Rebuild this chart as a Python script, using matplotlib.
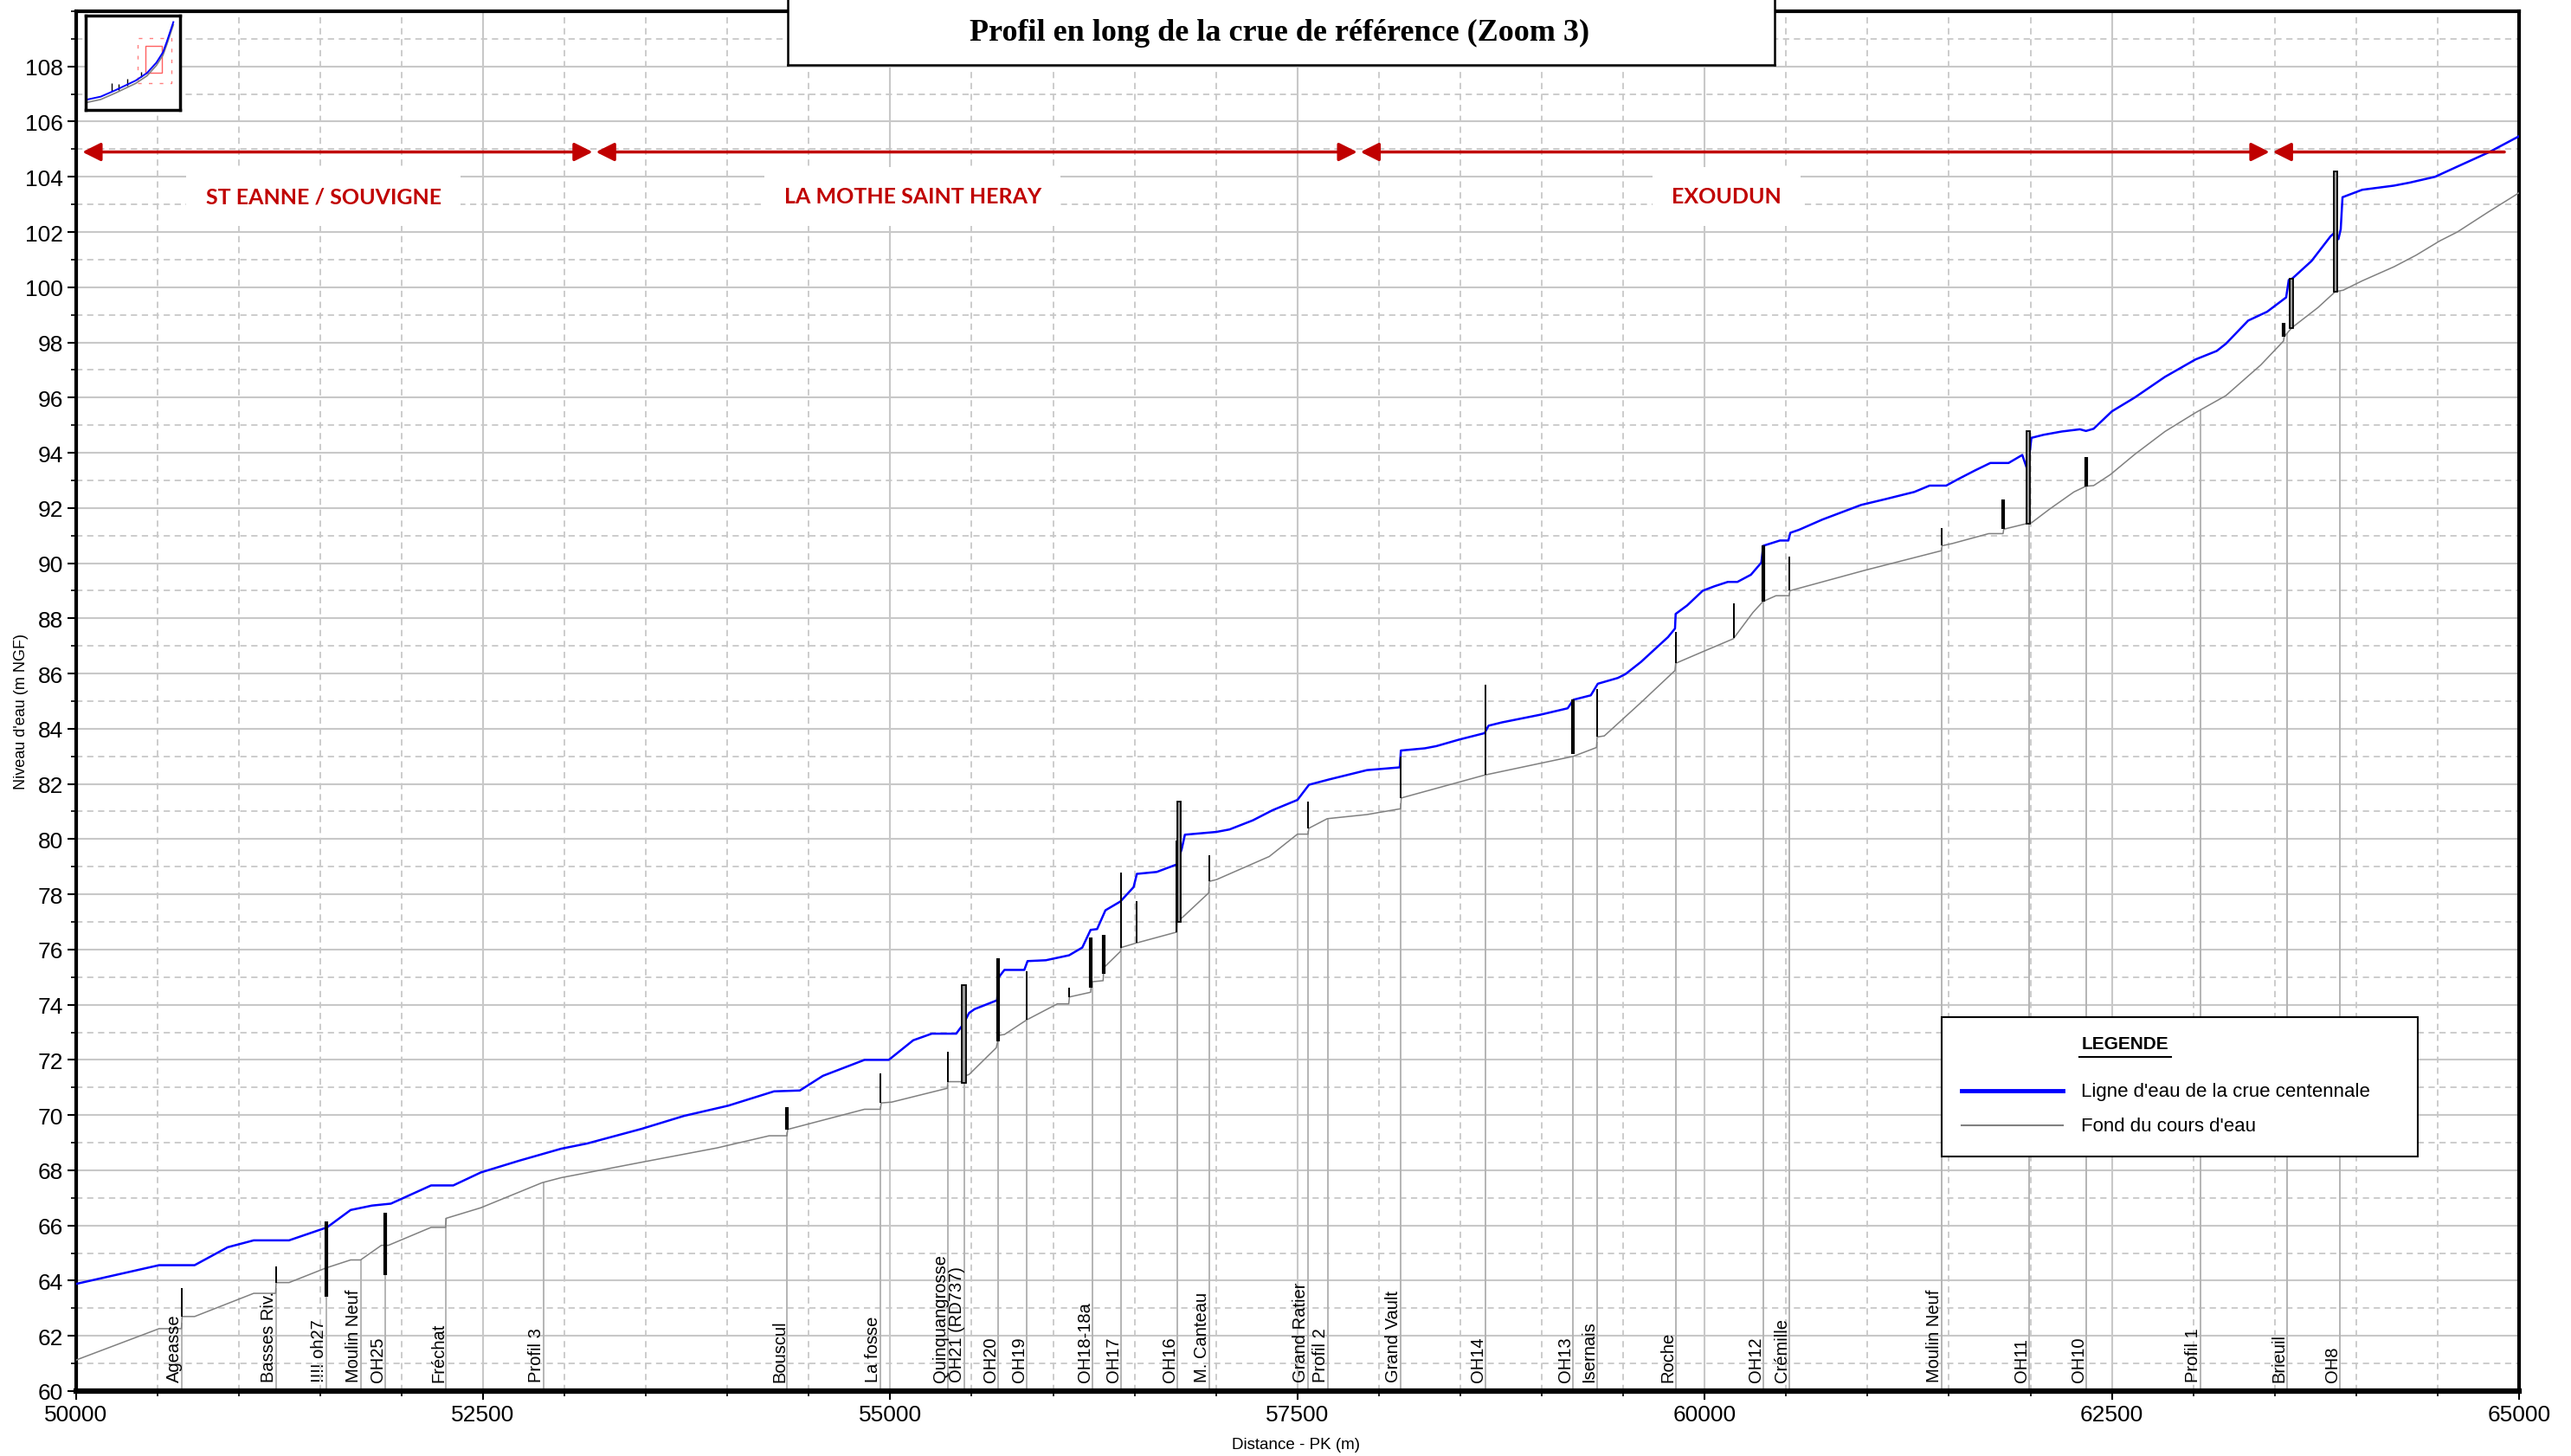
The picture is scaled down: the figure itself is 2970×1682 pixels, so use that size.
# -*- coding: utf-8 -*-
# Long profile of the reference flood (zoom 3), water line + river bed
import numpy as np
import matplotlib
matplotlib.use('Agg')
import matplotlib.pyplot as plt
from matplotlib.patches import Rectangle
from matplotlib.ticker import MultipleLocator

# Water line of the 100-year flood (PK in m, level in m NGF)
water_pk = [50000, 50511, 50729, 50932, 51092, 51309, 51542, 51687, 51818, 51934,
            52181, 52317, 52486, 52718, 52979, 53139, 53473, 53734, 54005, 54287,
            54445, 54586, 54842, 54991, 55141, 55255, 55405, 55449, 55484, 55518,
            55656, 55667, 55701, 55823, 55843, 55955, 56098, 56179, 56230, 56270,
            56321, 56413, 56494, 56514, 56636, 56758, 56789, 56809, 57002, 57083,
            57226, 57348, 57500, 57571, 57693, 57927, 58128, 58135, 58282, 58353,
            58495, 58649, 58673, 58756, 58993, 59159, 59194, 59301, 59344, 59467,
            59514, 59609, 59775, 59818, 59822, 59893, 59988, 60059, 60142, 60201,
            60284, 60348, 60360, 60462, 60514, 60526, 60580, 60723, 60961, 61110,
            61287, 61381, 61483, 61558, 61660, 61754, 61866, 61950, 61978, 61996,
            62006, 62080, 62192, 62304, 62341, 62388, 62500, 62640, 62826, 63013,
            63144, 63200, 63337, 63453, 63570, 63586, 63609, 63726, 63842, 63872,
            63891, 63905, 63916, 64037, 64232, 64329, 64484, 64621, 64815, 65000]
water_z = [63.88, 64.56, 64.56, 65.21, 65.46, 65.46, 65.93, 66.56, 66.72, 66.79,
           67.45, 67.45, 67.92, 68.34, 68.78, 68.97, 69.50, 69.97, 70.34, 70.86,
           70.89, 71.42, 72.00, 72.00, 72.71, 72.95, 72.95, 73.30, 73.70, 73.84,
           74.16, 75.00, 75.26, 75.26, 75.58, 75.61, 75.79, 76.07, 76.71, 76.74,
           77.42, 77.74, 78.26, 78.74, 78.81, 79.08, 79.63, 80.16, 80.26, 80.35,
           80.68, 81.05, 81.42, 81.97, 82.16, 82.50, 82.60, 83.21, 83.29, 83.37,
           83.61, 83.84, 84.11, 84.23, 84.51, 84.74, 85.05, 85.21, 85.63, 85.84,
           85.98, 86.42, 87.32, 87.63, 88.16, 88.47, 89.00, 89.16, 89.32, 89.32,
           89.58, 90.02, 90.63, 90.82, 90.82, 91.10, 91.21, 91.58, 92.11, 92.32,
           92.58, 92.81, 92.81, 93.05, 93.36, 93.63, 93.63, 93.92, 93.44, 94.03,
           94.54, 94.65, 94.77, 94.85, 94.79, 94.87, 95.50, 96.00, 96.75, 97.38,
           97.69, 97.95, 98.79, 99.11, 99.63, 100.26, 100.32, 100.95, 101.84, 102.00,
           101.74, 102.10, 103.26, 103.53, 103.68, 103.79, 104.00, 104.37, 104.89, 105.47]

# River bed (fond du cours d'eau)
bed_pk = [50000, 50511, 50613, 50648, 50652, 50729, 51092, 51226, 51230, 51309,
          51536, 51687, 51748, 51876, 51919, 52181, 52270, 52274, 52486, 52863,
          52979, 53473, 53937, 54257, 54366, 54370, 54842, 54940, 54944, 55009,
          55350, 55354, 55447, 55458, 55484, 55651, 55660, 55665, 55701, 55838,
          56026, 56096, 56100, 56230, 56236, 56307, 56311, 56413, 56417, 56514,
          56758, 56762, 56799, 56955, 56959, 57002, 57327, 57500, 57565, 57569,
          57683, 57927, 58035, 58133, 58137, 58649, 59194, 59336, 59340, 59384,
          59609, 59818, 59822, 59988, 60176, 60296, 60358, 60438, 60519, 60523,
          60983, 61453, 61457, 61520, 61744, 61832, 61836, 61968, 62006, 62118,
          62267, 62341, 62388, 62491, 62640, 62826, 63013, 63200, 63414, 63554,
          63558, 63605, 63765, 63872, 63920, 64037, 64232, 64368, 64514, 64621,
          64815, 65000]
bed_z = [61.12, 62.26, 62.26, 62.26, 62.70, 62.70, 63.54, 63.54, 63.93, 63.93,
         64.46, 64.75, 64.75, 65.28, 65.28, 65.93, 65.93, 66.26, 66.64, 67.55,
         67.73, 68.29, 68.81, 69.25, 69.25, 69.48, 70.21, 70.21, 70.44, 70.47,
         70.97, 71.21, 71.21, 71.42, 71.47, 72.44, 72.68, 72.89, 72.92, 73.45,
         74.03, 74.03, 74.28, 74.45, 74.83, 74.87, 75.34, 75.93, 76.07, 76.24,
         76.63, 77.00, 77.19, 78.05, 78.47, 78.53, 79.37, 80.18, 80.18, 80.39,
         80.74, 80.89, 81.00, 81.10, 81.49, 82.32, 83.00, 83.32, 83.70, 83.74,
         84.95, 86.11, 86.37, 86.79, 87.26, 88.21, 88.61, 88.82, 88.82, 89.00,
         89.74, 90.45, 90.63, 90.71, 91.07, 91.07, 91.23, 91.42, 91.46, 91.96,
         92.58, 92.79, 92.81, 93.21, 93.94, 94.77, 95.45, 96.07, 97.18, 98.05,
         98.21, 98.53, 99.26, 99.84, 99.89, 100.23, 100.74, 101.16, 101.68, 102.00,
         102.74, 103.42]

# Cross sections shown at the bottom
profile_names = ['Ageasse', 'Basses Riv.', '!!!! oh27', 'Moulin Neuf', 'OH25', 'Fréchat',
                 'Profil 3', 'Bouscul', 'La fosse', 'Quinquangrosse', 'OH21 (RD737)',
                 'OH20', 'OH19', 'OH18-18a', 'OH17', 'OH16', 'M. Canteau', 'Grand Ratier',
                 'Profil 2', 'Grand Vault', 'OH14', 'OH13', 'Isernais', 'Roche', 'OH12',
                 'Crémille', 'Moulin Neuf', 'OH11', 'OH10', 'Profil 1', 'Brieuil', 'OH8']
profile_pk = [50650, 51228, 51536, 51750, 51899, 52274, 52870, 54368, 54942, 55352,
              55455, 55664, 55840, 56240, 56417, 56764, 56957, 57567, 57688, 58135,
              58656, 59190, 59338, 59822, 60360, 60521, 61455, 61990, 62341, 63045,
              63575, 63900]

# Structures (ouvrages): position, bottom, top, drawing kind
struct_pk = [50650, 51228, 51536, 51899, 54368, 54942, 55352, 55452, 55662, 55838,
             56098, 56232, 56309, 56415, 56514, 56758, 56775, 56957, 57567, 58135,
             58656, 59192, 59338, 59822, 60178, 60360, 60521, 61455, 61834, 61985,
             62341, 63556, 63603, 63872]
struct_bottom = [62.70, 63.93, 63.43, 64.20, 69.48, 70.44, 71.21, 71.16, 72.68, 73.45,
                 74.28, 74.63, 75.13, 76.07, 76.24, 76.63, 77.00, 78.47, 80.39, 81.49,
                 82.32, 83.07, 83.70, 86.37, 87.28, 88.61, 89.00, 90.63, 91.23, 91.42,
                 92.79, 98.21, 98.53, 99.84]
struct_top = [63.73, 64.50, 66.16, 66.47, 70.30, 71.50, 72.30, 74.70, 75.68, 75.21,
              74.63, 76.42, 76.53, 78.79, 77.74, 79.95, 81.37, 79.42, 81.37, 83.00,
              85.60, 85.05, 85.44, 87.50, 88.55, 90.63, 90.23, 91.28, 92.32, 94.80,
              93.83, 98.72, 100.32, 104.19]
struct_kind = ['thin', 'thin', 'thick', 'thick', 'thick', 'thin', 'thin', 'box', 'thick', 'thin',
               'thin', 'thick', 'thick', 'thin', 'thin', 'thin', 'box', 'thin', 'thin', 'thin',
               'thin', 'thick', 'thin', 'thin', 'thin', 'thick', 'thin', 'thin', 'thick', 'box',
               'thick', 'thick', 'box', 'box']

# Reaches (communes) marked by red arrows
reach_names = ['ST EANNE / SOUVIGNE', 'LA MOTHE SAINT HERAY', 'EXOUDUN', '']
reach_start = [50040, 53193, 57887, 63488]
reach_end = [53173, 57867, 63468, 64910]
reach_label_pk = [51521, 55137, 60134, None]

# Overview thumbnail (normalised coords)
overview_x = [0.02, 0.16, 0.32, 0.53, 0.65, 0.75, 0.82, 0.86, 0.90, 0.93]
overview_y = [0.11, 0.14, 0.21, 0.31, 0.39, 0.50, 0.61, 0.72, 0.84, 0.93]
overview_spike_x = [0.28, 0.35, 0.44, 0.59]
overview_spike_y0 = [0.20, 0.21, 0.26, 0.35]
overview_spike_y1 = [0.28, 0.27, 0.33, 0.40]

plt.rcParams['font.family'] = ['Liberation Sans', 'DejaVu Sans']

fig = plt.figure(figsize=(29.7, 16.83), dpi=100)
ax = fig.add_axes([0.0295, 0.0446, 0.9503, 0.9471])

# grid
ax.set_xlim(50000, 65000)
ax.set_ylim(60, 110)
ax.xaxis.set_major_locator(MultipleLocator(2500))
ax.xaxis.set_minor_locator(MultipleLocator(500))
ax.yaxis.set_major_locator(MultipleLocator(2))
ax.yaxis.set_minor_locator(MultipleLocator(1))
ax.set_yticks(np.arange(60, 109, 2))
ax.grid(which='major', color='#c8c8c8', lw=1.5, ls='-', zorder=0)
ax.grid(which='minor', color='#c8c8c8', lw=1.3, ls=(0, (4, 3)), zorder=0)
ax.set_axisbelow(True)

# cross-section lines up to the bed
prof_bed = np.interp(profile_pk, bed_pk, bed_z)
ax.vlines(profile_pk, 60, prof_bed, color='#b4b4b4', lw=1.4, zorder=1)
for name, pk in zip(profile_names, profile_pk):
    ax.text(pk + 5, 60.35, name, rotation=90, ha='right', va='bottom',
            fontsize=14.5, color='black', zorder=6)

# lines
ax.plot(bed_pk, bed_z, color='#808080', lw=1.1, zorder=3)
ax.plot(water_pk, water_z, color='#0000ff', lw=1.8, zorder=4)

# structures
for pk, b, t, kind in zip(struct_pk, struct_bottom, struct_top, struct_kind):
    if kind == 'box':
        ax.add_patch(Rectangle((pk - 11, b), 22, t - b, facecolor='#9a9a9a',
                               edgecolor='black', lw=1.3, zorder=5))
    elif kind == 'thick':
        ax.vlines(pk, b, t, color='black', lw=3.0, zorder=5)
    else:
        ax.vlines(pk, b, t, color='black', lw=1.4, zorder=5)

# reach arrows and names
arrow_z = 104.9
for name, s, e, lp in zip(reach_names, reach_start, reach_end, reach_label_pk):
    style = '<|-|>' if name else '<|-'
    ax.annotate('', xy=(e, arrow_z), xytext=(s, arrow_z),
                arrowprops=dict(arrowstyle=style, color='#c00000', lw=2.5,
                                mutation_scale=32, shrinkA=0, shrinkB=0), zorder=6)
    if name:
        ax.text(lp, 103.3, name, ha='center', va='center', fontsize=18,
                fontweight='bold', color='#c00000', family=['Lato', 'DejaVu Sans'],
                bbox=dict(facecolor='white', edgecolor='none', boxstyle='square,pad=0.9'),
                zorder=6)

# axes frame and ticks
for side in ['top', 'left', 'right']:
    ax.spines[side].set_linewidth(3)
ax.spines['bottom'].set_linewidth(4.5)
ax.tick_params(which='major', direction='out', length=7, width=1.5, labelsize=19)
ax.tick_params(which='minor', direction='out', length=4, width=1.2)
for lab in ax.get_xticklabels() + ax.get_yticklabels():
    lab.set_family(['Liberation Sans Narrow', 'Liberation Sans'])

fig.text(0.0083, 0.5116, "Niveau d'eau (m NGF)", rotation=90, ha='center', va='center', fontsize=13)
fig.text(0.504, 0.0083, 'Distance - PK (m)', ha='center', va='center', fontsize=13.5)

# legend box
ax.add_patch(Rectangle((0.7636, 0.1699), 0.1948, 0.101, transform=ax.transAxes,
                       facecolor='white', edgecolor='black', lw=1.5, zorder=10))
ax.text(0.8388, 0.2519, 'LEGENDE', transform=ax.transAxes, ha='center', va='center',
        fontsize=15, fontweight='bold', zorder=11)
ax.plot([0.8200, 0.8576], [0.2424, 0.2424], transform=ax.transAxes, color='black', lw=1.5, zorder=11)
ax.plot([0.7717, 0.8133], [0.2175, 0.2175], transform=ax.transAxes, color='#0000ff', lw=3.5, zorder=11)
ax.plot([0.7717, 0.8133], [0.1925, 0.1925], transform=ax.transAxes, color='#808080', lw=1.5, zorder=11)
ax.text(0.8207, 0.2175, "Ligne d'eau de la crue centennale", transform=ax.transAxes,
        ha='left', va='center', fontsize=16, zorder=11)
ax.text(0.8207, 0.1925, "Fond du cours d'eau", transform=ax.transAxes,
        ha='left', va='center', fontsize=16, zorder=11)

# overview thumbnail
axo = fig.add_axes([0.0333, 0.924, 0.0367, 0.0648])
axo.set_xlim(0, 1)
axo.set_ylim(0, 1)
axo.plot(overview_x, np.array(overview_y) - 0.03, color='#808080', lw=1.2)
axo.vlines(overview_spike_x, overview_spike_y0, overview_spike_y1, color='black', lw=1)
axo.plot(overview_x, overview_y, color='#0000ff', lw=1.4)
axo.add_patch(Rectangle((0.63, 0.39), 0.18, 0.29, fill=False, edgecolor='#ff6060', lw=1))
axo.add_patch(Rectangle((0.55, 0.28), 0.36, 0.48, fill=False, edgecolor='#ff8080', lw=1, ls=(0, (3, 6))))
axo.set_xticks([])
axo.set_yticks([])
for sp in axo.spines.values():
    sp.set_linewidth(2.5)

# title box
axt = fig.add_axes([0.3064, 0.9548, 0.3838, 0.07], zorder=5)
axt.set_xticks([])
axt.set_yticks([])
for sp in axt.spines.values():
    sp.set_linewidth(1.8)
fig.text(0.4977, 0.9774, 'Profil en long de la crue de référence (Zoom 3)', ha='center', va='center',
         fontsize=26, fontweight='bold', family=['Liberation Serif', 'DejaVu Serif'], zorder=6)

fig.savefig('out.png', dpi=100)
